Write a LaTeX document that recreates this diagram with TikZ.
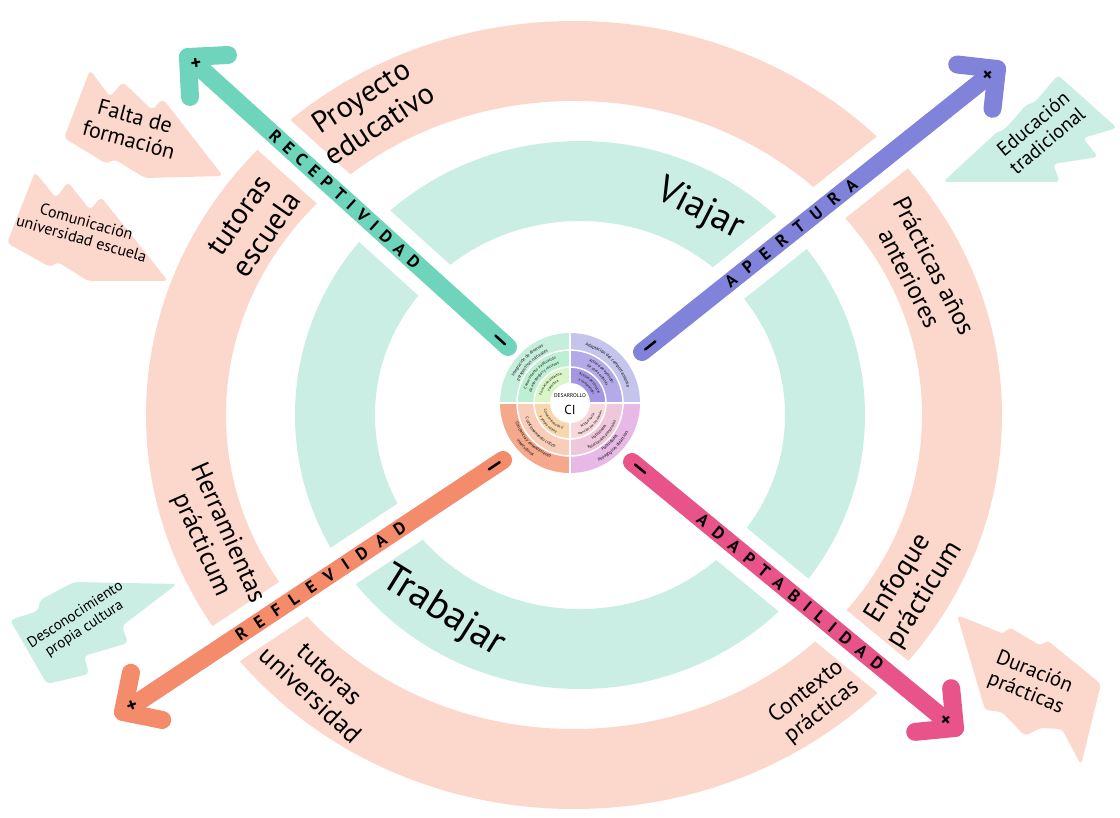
\documentclass[tikz,border=0pt]{standalone}
\usepackage{fontspec}
\setmainfont{PT Sans}
\usetikzlibrary{calc,decorations.text}
\definecolor{salmon}{HTML}{FCD8CC}
\definecolor{mint}{HTML}{CAEEE4}
\definecolor{tealA}{HTML}{6FD4BC}
\definecolor{purpA}{HTML}{8083D9}
\definecolor{orngA}{HTML}{F48B6B}
\definecolor{pinkA}{HTML}{E8548A}
\definecolor{tlO}{HTML}{C6EEDC}
\definecolor{tlM}{HTML}{BDEFD3}
\definecolor{tlI}{HTML}{DAF5C8}
\definecolor{trO}{HTML}{C4C4EC}
\definecolor{trM}{HTML}{B4AAE8}
\definecolor{trI}{HTML}{A596E1}
\definecolor{blO}{HTML}{F5A88C}
\definecolor{blM}{HTML}{FACDB9}
\definecolor{blI}{HTML}{F8D7AF}
\definecolor{brO}{HTML}{E8B9E6}
\definecolor{brM}{HTML}{EEC8DA}
\definecolor{brI}{HTML}{F5D7DC}
\newcommand\fsz[1]{\fontsize{#1}{\the\dimexpr#1pt*11/10\relax}\selectfont}
\newcommand\lsa{\hskip 8pt}
\newcommand\lsb{\hskip 12pt}
\newcommand\lsc{\hskip 9.5pt}
\newcommand\sect[4]{\fill[#1] (W) -- ++(#2:#4) arc[start angle=#2,end angle=#3,radius=#4] -- cycle;}
\newcommand\arctext[5]{\path[decorate,decoration={text along path,text align=center,text={|\fontsize{#5}{#5}\selectfont|#4}}] (W) ++(#1:#3) arc[start angle=#1,end angle=#2,radius=#3];}
\begin{document}
\begin{tikzpicture}[x=1pt,y=-1pt,
  ringS/.style={draw=salmon,line width=80pt},
  ringG/.style={draw=mint,line width=80pt},
  gapline/.style={draw=white,line width=44pt},
  axis/.style={line width=18pt,line cap=round,line join=round},
  minus/.style={line width=2.5pt,line cap=round,draw=black},
  plusmark/.style={font=\bfseries\fsz{20},inner sep=0pt},
  lab/.style={align=center,inner sep=0pt},
  axlab/.style={sloped,font=\bfseries\fsz{17},inner sep=0pt},
  boltS/.style={fill=salmon,rounded corners=4pt},
  boltG/.style={fill=mint,rounded corners=4pt}]
\useasboundingbox (0,0) rectangle (1120,818);
% rings
\draw[ringS] (574,415) ellipse [x radius=388, y radius=354];
\draw[ringG] (580,415) ellipse [x radius=245, y radius=234];
% axis coordinates
\coordinate (tT) at (508,347); \coordinate (hT) at (188,57);
\coordinate (tP) at (642,352); \coordinate (hP) at (997,69);
\coordinate (tO) at (503,460); \coordinate (hO) at (123,712);
\coordinate (tK) at (632,462); \coordinate (hK) at (955,728);
% gaps
\draw[gapline] (tT) -- (hT);
\draw[gapline] (tP) -- (hP);
\draw[gapline] (tO) -- (hO);
\draw[gapline] (tK) -- (hK);
% bolts
\path[boltS] (64,138) -- (90,70) -- (110,97) -- (123,82) -- (152,110) -- (163,99) -- (223,176) -- (145,178) -- (114,159) -- (107,164) -- cycle;
\path[boltS] (7,243) -- (35,172) -- (56,198) -- (68,182) -- (90,210) -- (101,197) -- (168,281) -- (88,281) -- (58,262) -- (50,267) -- cycle;
\path[boltG] (943,182) -- (997,132) -- (1004,130) -- (1027,104) -- (1034,103) -- (1058,75) -- (1117,128) -- (1083,138) -- (1098,157) -- (1053,164) -- (1060,182) -- cycle;
\path[boltG] (10,620) -- (38,611) -- (40,600) -- (74,582) -- (177,584) -- (122,626) -- (128,643) -- (84,656) -- (89,674) -- (47,684) -- cycle;
\path[boltS] (957,615) -- (1004,634) -- (1009,627) -- (1041,646) -- (1047,640) -- (1101,684) -- (1081,765) -- (1062,729) -- (1040,728) -- (1025,736) -- (1002,712) -- (985,710) -- cycle;
% axes
\foreach \t/\h/\c in {tT/hT/tealA, tP/hP/purpA, tO/hO/orngA, tK/hK/pinkA}{
  \draw[axis,\c] (\t) -- (\h);
  \draw[axis,\c] ($(\h)!40pt!45:(\t)$) -- (\h) -- ($(\h)!40pt!-45:(\t)$);
  \draw[minus] ($(\t)!4pt!(\h)$) -- ($(\t)!17pt!(\h)$);
}
\node[plusmark,rotate=10] (pT) at ($(hT)!11pt!(tT)$) {+};
\node[plusmark,rotate=40] (pP) at ($(hP)!11pt!(tP)$) {+};
\node[plusmark,rotate=20] (pO) at ($(hO)!11pt!(tO)$) {+};
\node[plusmark,rotate=40] (pK) at ($(hK)!11pt!(tK)$) {+};
\path (tT) -- (hT) node[axlab,pos=0.51] (lT) {R\lsa E\lsa C\lsa E\lsa P\lsa T\lsa I\lsa V\lsa I\lsa D\lsa A\lsa D};
\path (tP) -- (hP) node[axlab,pos=0.42] (lP) {A\lsb P\lsb E\lsb R\lsb T\lsb U\lsb R\lsb A};
\path (tO) -- (hO) node[axlab,pos=0.48] (lO) {R\lsb E\lsb F\lsb L\lsb E\lsb V\lsb I\lsb D\lsb A\lsb D};
\path (tK) -- (hK) node[axlab,pos=0.49] (lK) {A\lsc D\lsc A\lsc P\lsc T\lsc A\lsc B\lsc I\lsc L\lsc I\lsc D\lsc A\lsc D};
% wheel
\coordinate (W) at (570,403);
\sect{tlO}{180}{270}{70}\sect{tlM}{180}{270}{53}\sect{tlI}{180}{270}{36}
\sect{trO}{270}{360}{70}\sect{trM}{270}{360}{53}\sect{trI}{270}{360}{36}
\sect{blO}{90}{180}{70}\sect{blM}{90}{180}{53}\sect{blI}{90}{180}{36}
\sect{brO}{0}{90}{70}\sect{brM}{0}{90}{53}\sect{brI}{0}{90}{36}
\fill[white] (W) circle (20);
\draw[white,line width=1.5pt] (W) circle (53);
\draw[white,line width=1.5pt] (W) circle (36);
\draw[white,line width=2pt] (W) ++(-71,0) -- ++(142,0);
\draw[white,line width=2pt] (W) ++(0,-71) -- ++(0,142);
\arctext{185}{265}{62}{Integración de diversas}{4.3}
\arctext{185}{265}{55.5}{perspectivas culturales}{4.3}
\arctext{185}{265}{46}{Conocimiento y aplicación}{3.9}
\arctext{185}{265}{40}{de estrategias y recursos}{3.9}
\arctext{183}{267}{29.5}{Formación didáctica}{3.5}
\arctext{183}{267}{24}{y práctica}{3.5}
\arctext{275}{355}{59}{Adaptación del comportamiento}{4.5}
\arctext{275}{355}{46}{Actitud de aprender}{3.9}
\arctext{275}{355}{40}{de otras culturas}{3.9}
\arctext{273}{357}{29.5}{Actitud de conocer}{3.5}
\arctext{273}{357}{24}{y comprender}{3.5}
\arctext{175}{95}{58}{Conciencia y entendimiento}{4.3}
\arctext{175}{95}{65}{intercultural}{4.3}
\arctext{175}{95}{47}{Cuestionamiento crítico}{4.3}
\arctext{177}{93}{27}{Conocimiento de sí}{3.5}
\arctext{177}{93}{33}{y propia cultura}{3.5}
\arctext{85}{5}{58}{Habilidades}{4.3}
\arctext{85}{5}{65}{Pedagógicas didácticas}{4.3}
\arctext{85}{5}{43}{Habilidades}{3.9}
\arctext{85}{5}{49.5}{Relacionales personales}{3.9}
\arctext{87}{3}{27}{Actitud hacia}{3.5}
\arctext{87}{3}{33}{atención por los demás}{3.5}
\node[lab,font=\fontsize{5.5}{6}\selectfont] (des) at (570,396) {DESARROLLO};
\node[lab,font=\fsz{13}] (ci) at (570,410) {CI};
% ring labels
\node[lab,font=\fsz{30},rotate=33] (proy) at (370,110) {Proyecto\\educativo};
\node[lab,font=\fsz{30},rotate=55] (tesc) at (253,225) {tutoras\\escuela};
\node[lab,font=\fsz{26},rotate=-66] (herr) at (214,539) {Herramientas\\prácticum};
\node[lab,font=\fsz{26},rotate=-43] (tuni) at (320,685) {tutoras\\universidad};
\node[lab,font=\fsz{40},rotate=-32] (trab) at (443,612) {Trabajar};
\node[lab,font=\fsz{38},rotate=-27] (viaj) at (700,210) {Viajar};
\node[lab,font=\fsz{25},rotate=-63] (prac) at (922,272) {Prácticas años\\anteriores};
\node[lab,font=\fsz{28},rotate=58] (enf) at (912,587) {Enfoque\\prácticum};
\node[lab,font=\fsz{23},rotate=38] (ctx) at (814,702) {Contexto\\prácticas};
% bolt labels
\node[lab,font=\fsz{22},rotate=-15] (falta) at (132,128) {Falta de\\formación};
\node[lab,font=\fsz{16},rotate=-16] (comu) at (84,230) {Comunicación\\universidad escuela};
\node[lab,font=\fsz{20},rotate=40] (educ) at (1040,132) {Educación\\tradicional};
\node[lab,font=\fsz{15},rotate=33] (desc) at (80,622) {Desconocimiento\\propia cultura};
\node[lab,font=\fsz{21},rotate=-22] (dura) at (1030,683) {Duración\\prácticas};
\end{tikzpicture}
\end{document}
